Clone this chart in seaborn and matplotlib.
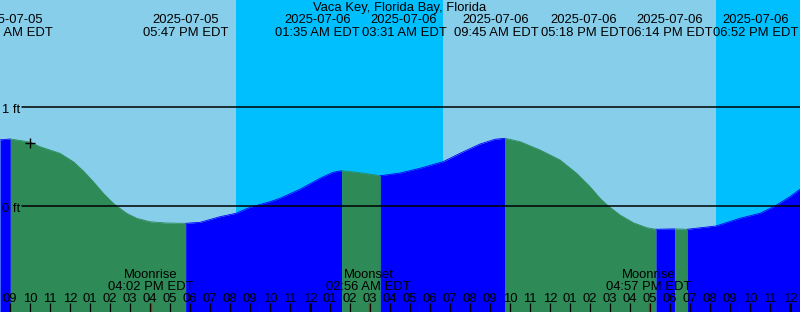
import matplotlib
matplotlib.use("Agg")
import matplotlib.pyplot as plt
import seaborn as sns
import pandas as pd

# ---------------- data ----------------
title = "Vaca Key, Florida Bay, Florida"

# hours since 2025-07-05 00:00 EDT, tide height in ft
tide_hours = [8.5, 9.017, 10.0, 10.5, 11.5, 12.167, 12.667, 13.167, 13.667, 14.083,
              14.333, 14.833, 15.333, 16.0, 16.833, 17.783, 18.5, 19.5, 20.3, 21.0,
              22.0, 22.5, 23.5, 24.5, 25.15, 25.583, 26.5, 27.517, 28.5, 29.5, 30.65,
              31.5, 32.5, 33.25, 33.75, 34.5, 35.5, 36.5, 37.333, 38.0, 38.5, 38.917,
              39.5, 40.167, 40.833, 41.3, 42.233, 42.867, 44.3, 45.5, 46.5, 47.25,
              48.0, 48.5]
tide_ft = [0.668, 0.677, 0.646, 0.599, 0.532, 0.447, 0.354, 0.245, 0.128, 0.043,
           0.0, -0.074, -0.124, -0.159, -0.172, -0.175, -0.165, -0.108, -0.074, -0.013,
           0.043, 0.078, 0.169, 0.280, 0.340, 0.357, 0.336, 0.306, 0.333, 0.381, 0.447,
           0.532, 0.626, 0.674, 0.684, 0.650, 0.566, 0.465, 0.330, 0.195, 0.078, 0.0,
           -0.091, -0.169, -0.219, -0.235, -0.231, -0.235, -0.202, -0.124, -0.074, 0.0,
           0.094, 0.169]

event_hours = [9.017, 17.783, 25.583, 27.517, 33.75, 41.3, 42.233, 42.867]
event_dates = ["2025-07-05", "2025-07-05", "2025-07-06", "2025-07-06",
               "2025-07-06", "2025-07-06", "2025-07-06", "2025-07-06"]
event_times = ["09:01 AM EDT", "05:47 PM EDT", "01:35 AM EDT", "03:31 AM EDT",
               "09:45 AM EDT", "05:18 PM EDT", "06:14 PM EDT", "06:52 PM EDT"]

moon_hours = [16.033, 26.933, 40.95]
moon_names = ["Moonrise", "Moonset", "Moonrise"]
moon_times = ["04:02 PM EDT", "02:56 AM EDT", "04:57 PM EDT"]

night_start = [20.3, 44.3]
night_end = [30.665, 48.5]

hour_ticks = list(range(9, 49))
level_lines = [0, 1]
level_labels = ["0 ft", "1 ft"]
now_hour, now_ft = 10.0, 0.633

# ---------------- layout ----------------
W, H = 800, 312
X0, X1 = 8.5, 48.5
PX_PER_FT, ZERO_PX = 99.0, 206.0
label_centers = [9.0, 17.785, 24.375, 28.7, 33.3, 37.7, 42.0, 46.285]  # de-overlapped positions

DAY = "#87CEEB"
NIGHT = "#00BFFF"
FLOOD = "#0000FF"
EBB = "#2E8B57"

sns.set_theme(style="white")
plt.rcParams["font.family"] = ["Liberation Sans", "DejaVu Sans"]
plt.rcParams["text.color"] = "black"
FS = 9.4

fig = plt.figure(figsize=(W / 100, H / 100), dpi=100)
fig.set_facecolor(DAY)
ax = fig.add_axes([0, 0, 1, 1])
ax.set_xlim(X0, X1)
ax.set_ylim((ZERO_PX - H) / PX_PER_FT, ZERO_PX / PX_PER_FT)


def fy(px):
    return 1 - px / H


ax.axvspan(X0, X1, color=DAY, lw=0, zorder=0)
for a, b in zip(night_start, night_end):
    ax.axvspan(a, b, color=NIGHT, lw=0, zorder=0.5)

df = pd.DataFrame({"t": tide_hours, "h": tide_ft})
bounds = [X0] + event_hours + [X1]
ybot = ax.get_ylim()[0]
for a, b in zip(bounds[:-1], bounds[1:]):
    seg = df[(df.t >= a - 1e-9) & (df.t <= b + 1e-9)]
    col = FLOOD if seg.h.iloc[-1] > seg.h.iloc[0] else EBB
    ax.fill_between(seg.t, seg.h, ybot, color=col, lw=0, zorder=1)
    sns.lineplot(data=seg, x="t", y="h", color=col, lw=0.6, ax=ax, zorder=1.5,
                 legend=False, sort=True, estimator=None)
ax.set_xlim(X0, X1)
ax.set_ylim((ZERO_PX - H) / PX_PER_FT, ZERO_PX / PX_PER_FT)
ax.axis("off")

# level lines
for lv, lab in zip(level_lines, level_labels):
    ax.axhline(lv, xmin=22 / W, xmax=1, color="black", lw=1.1, zorder=3)
    ax.text(X0 + 2.5 / 20, lv - 5.8 / PX_PER_FT, lab, fontsize=FS, ha="left",
            va="baseline", color="black", zorder=3)

# current-time marker
ax.plot([now_hour], [now_ft], marker="+", ms=6.8, mew=1.0, color="black", zorder=4)

xt = ax.get_xaxis_transform()
# title and tide event labels
ax.text(0.5, fy(11.5), title, transform=ax.transAxes, ha="center", va="baseline",
        fontsize=FS, color="black", zorder=5)
for cx, d, tm in zip(label_centers, event_dates, event_times):
    ax.text(cx, fy(23.3), d, transform=xt, ha="center", va="baseline", fontsize=FS,
            color="black", zorder=5)
    ax.text(cx, fy(35.8), tm, transform=xt, ha="center", va="baseline", fontsize=FS,
            color="black", zorder=5)

# moon labels
for mh, nm, tm in zip(moon_hours, moon_names, moon_times):
    ax.text(mh, fy(278.3), nm, transform=xt, ha="center", va="baseline", fontsize=FS,
            color="black", zorder=5)
    ax.text(mh, fy(290.0), tm, transform=xt, ha="center", va="baseline", fontsize=FS,
            color="black", zorder=5)

# hour ticks and labels
for h in hour_ticks:
    lab = "%02d" % (((h - 1) % 12) + 1)
    ax.text(h, fy(301.6), lab, transform=xt, ha="center", va="baseline", fontsize=FS,
            color="black", zorder=5)
    wide = (h % 24 == 0)
    ax.vlines(h, 0, fy(303.3), transform=xt, color="black",
              lw=2.2 if wide else 0.9, zorder=5)
for mh in moon_hours:
    ax.vlines(mh, 0, fy(303.3), transform=xt, color="#FF0000", lw=0.9, zorder=6)

fig.savefig("out.png", dpi=100, facecolor=DAY)
